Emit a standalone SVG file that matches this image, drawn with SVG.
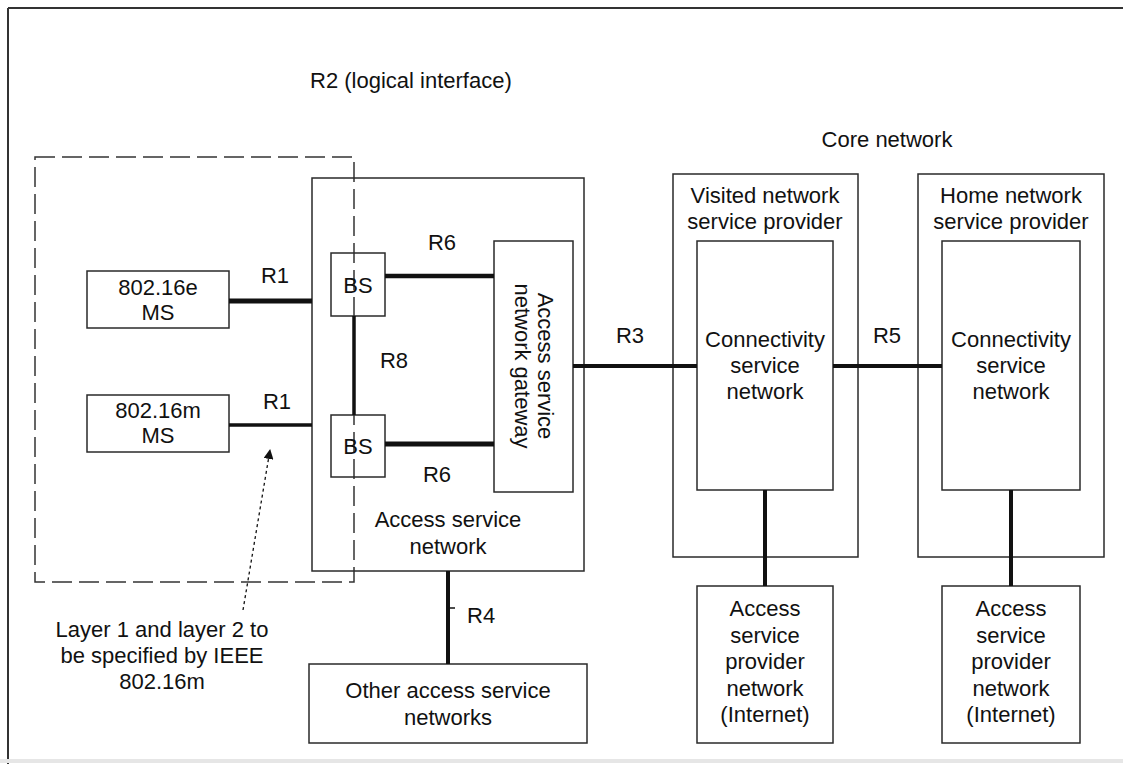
<svg xmlns="http://www.w3.org/2000/svg" width="1123" height="764" viewBox="0 0 1123 764">
<defs>
<style>
.t{font-family:"Liberation Sans",Arial,sans-serif;font-size:22px;fill:#111;text-anchor:middle}
.s{text-anchor:start}
.box{fill:none;stroke:#2a2a2a;stroke-width:1.5}
.c{stroke:#111;fill:none}
</style>
<marker id="ah" viewBox="0 0 10 10" refX="9" refY="5" markerWidth="10" markerHeight="10" markerUnits="userSpaceOnUse" orient="auto">
<path d="M0,0 L10,5 L0,10 Z" fill="#111"/>
</marker>
</defs>
<rect width="1123" height="764" fill="#fff"/>
<g id="frame">
<line x1="8" y1="8" x2="1123" y2="8" stroke="#333" stroke-width="2"/>
<line x1="8" y1="8" x2="8" y2="764" stroke="#333" stroke-width="2"/>
<line x1="0" y1="761" x2="1123" y2="761" stroke="#e6e6e6" stroke-width="4"/>
</g>
<g id="labels">
<text class="t s" x="310" y="88">R2 (logical interface)</text>
<text class="t" x="887" y="147">Core network</text>
<text class="t" x="162" y="637">Layer 1 and layer 2 to</text>
<text class="t" x="162" y="663">be specified by IEEE</text>
<text class="t" x="162" y="689">802.16m</text>
</g>
<g id="l1l2-region">
<rect x="35" y="157" width="319" height="425" fill="none" stroke="#333" stroke-width="1.5" stroke-dasharray="20 7"/>
</g>
<g id="ms-e">
<rect class="box" x="87" y="271" width="142" height="57"/>
<text class="t" x="158" y="295">802.16e</text>
<text class="t" x="158" y="320">MS</text>
</g>
<g id="ms-m">
<rect class="box" x="87" y="395" width="142" height="57"/>
<text class="t" x="158" y="418">802.16m</text>
<text class="t" x="158" y="443">MS</text>
</g>
<g id="asn">
<rect class="box" x="312" y="178" width="272" height="393"/>
<text class="t" x="448" y="527">Access service</text>
<text class="t" x="448" y="554">network</text>
</g>
<g id="bs1">
<rect class="box" x="331" y="253" width="54" height="63"/>
<text class="t" x="358" y="293">BS</text>
</g>
<g id="bs2">
<rect class="box" x="331" y="415" width="54" height="62"/>
<text class="t" x="358" y="454">BS</text>
</g>
<g id="asn-gw">
<rect class="box" x="494" y="241" width="79" height="251"/>
<text class="t" x="538" y="366" transform="rotate(90 538 366)">Access service</text>
<text class="t" x="515" y="366" transform="rotate(90 515 366)">network gateway</text>
</g>
<g id="visited-nsp">
<rect class="box" x="673" y="174" width="185" height="383"/>
<text class="t" x="765" y="203">Visited network</text>
<text class="t" x="765" y="229">service provider</text>
</g>
<g id="visited-csn">
<rect class="box" x="697" y="241" width="136" height="249"/>
<text class="t" x="765" y="347">Connectivity</text>
<text class="t" x="765" y="373">service</text>
<text class="t" x="765" y="399">network</text>
</g>
<g id="home-nsp">
<rect class="box" x="918" y="174" width="186" height="383"/>
<text class="t" x="1011" y="203">Home network</text>
<text class="t" x="1011" y="229">service provider</text>
</g>
<g id="home-csn">
<rect class="box" x="942" y="241" width="138" height="249"/>
<text class="t" x="1011" y="347">Connectivity</text>
<text class="t" x="1011" y="373">service</text>
<text class="t" x="1011" y="399">network</text>
</g>
<g id="asp-visited">
<rect class="box" x="697" y="586" width="136" height="157"/>
<text class="t" x="765" y="616">Access</text>
<text class="t" x="765" y="642.5">service</text>
<text class="t" x="765" y="669">provider</text>
<text class="t" x="765" y="695.5">network</text>
<text class="t" x="765" y="722">(Internet)</text>
</g>
<g id="asp-home">
<rect class="box" x="942" y="586" width="138" height="157"/>
<text class="t" x="1011" y="616">Access</text>
<text class="t" x="1011" y="642.5">service</text>
<text class="t" x="1011" y="669">provider</text>
<text class="t" x="1011" y="695.5">network</text>
<text class="t" x="1011" y="722">(Internet)</text>
</g>
<g id="other-asn">
<rect class="box" x="309" y="664" width="278" height="79"/>
<text class="t" x="448" y="698">Other access service</text>
<text class="t" x="448" y="725">networks</text>
</g>
<g id="connectors">
<line class="c" x1="229" y1="301" x2="312" y2="301" stroke-width="5"/>
<text class="t" x="275" y="283">R1</text>
<line class="c" x1="229" y1="425" x2="312" y2="425" stroke-width="3.5"/>
<text class="t" x="277" y="409">R1</text>
<line class="c" x1="385" y1="276" x2="494" y2="276" stroke-width="4.5"/>
<text class="t" x="442" y="250">R6</text>
<line class="c" x1="385" y1="444" x2="494" y2="444" stroke-width="5"/>
<text class="t" x="437" y="482">R6</text>
<line class="c" x1="354" y1="316" x2="354" y2="415" stroke-width="3.5"/>
<text class="t" x="394" y="368">R8</text>
<line class="c" x1="573" y1="366" x2="697" y2="366" stroke-width="4"/>
<text class="t" x="630" y="343">R3</text>
<line class="c" x1="833" y1="366" x2="942" y2="366" stroke-width="4"/>
<text class="t" x="887" y="343">R5</text>
<line class="c" x1="765" y1="490" x2="765" y2="586" stroke-width="4"/>
<line class="c" x1="1011" y1="490" x2="1011" y2="586" stroke-width="4"/>
<line class="c" x1="448" y1="571" x2="448" y2="664" stroke-width="4"/>
<line class="c" x1="448" y1="608" x2="455" y2="608" stroke-width="1.5"/>
<text class="t s" x="467" y="623">R4</text>
<line class="c" x1="243" y1="610" x2="270" y2="450" stroke-width="1.3" stroke-dasharray="3 3" marker-end="url(#ah)"/>
</g>
</svg>
